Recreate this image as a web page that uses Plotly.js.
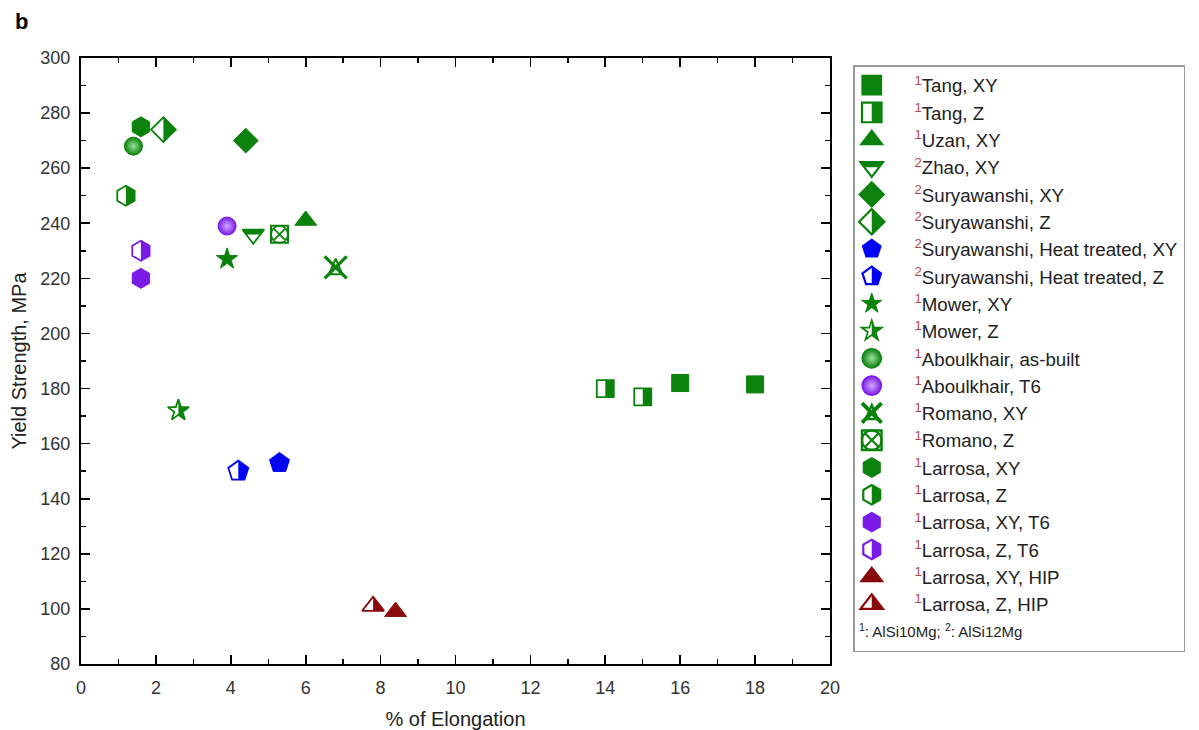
<!DOCTYPE html>
<html>
<head>
<meta charset="utf-8">
<script src="https://cdn.plot.ly/plotly-3.0.1.min.js"></script>
<style>
  html, body { margin: 0; padding: 0; background: #fff; }
  #chart { width: 1199px; height: 730px; }
</style>
</head>
<body>
<div id="chart"></div>
<script>
// ---------- data ----------
const seriesNames = [
  'Tang, XY', 'Tang, Z', 'Uzan, XY', 'Zhao, XY',
  'Suryawanshi, XY', 'Suryawanshi, Z',
  'Suryawanshi, Heat treated, XY', 'Suryawanshi, Heat treated, Z',
  'Mower, XY', 'Mower, Z',
  'Aboulkhair, as-built', 'Aboulkhair, T6',
  'Romano, XY', 'Romano, Z',
  'Larrosa, XY', 'Larrosa, Z', 'Larrosa, XY, T6', 'Larrosa, Z, T6',
  'Larrosa, XY, HIP', 'Larrosa, Z, HIP'
];
const alloyIndex = [1, 1, 1, 2, 2, 2, 2, 2, 1, 1, 1, 1, 1, 1, 1, 1, 1, 1, 1, 1];
const alloyNames = ['AlSi10Mg', 'AlSi12Mg'];
const elongation = [
  [16, 18], [14, 15], [6], [4.6], [4.4], [2.2], [5.3], [4.2], [3.9], [2.6],
  [1.4], [3.9], [6.8], [5.3], [1.6], [1.2], [1.6], [1.6], [8.4], [7.8]
];
const yieldStrength = [
  [182, 181.5], [180, 177], [241], [236], [270], [274], [153], [150], [227], [172],
  [268], [239], [224], [236], [275], [250], [220], [230], [99], [101]
];
const xTicks = [0, 2, 4, 6, 8, 10, 12, 14, 16, 18, 20];
const yTicks = [80, 100, 120, 140, 160, 180, 200, 220, 240, 260, 280, 300];

// ---------- styles ----------
const GREEN = '#0b820b', BLUE = '#0000f5', PURPLE = '#7a1ae6', DRED = '#8a0a0a';
const colors = [GREEN, GREEN, GREEN, GREEN, GREEN, GREEN, BLUE, BLUE, GREEN, GREEN,
                GREEN, PURPLE, GREEN, GREEN, GREEN, GREEN, PURPLE, PURPLE, DRED, DRED];
const symbols = ['square', 'square-open', 'triangle-up', 'triangle-down-open',
  'diamond', 'diamond-open', 'pentagon', 'pentagon-open', 'star', 'star-open',
  'circle', 'circle', 'x-thin-open', 'circle-x-open', 'hexagon', 'hexagon-open',
  'hexagon', 'hexagon-open', 'triangle-up', 'triangle-up-open'];
const sizes = [17, 17, 19, 19, 19, 19, 21, 21, 16, 16, 18, 18, 22, 17, 20, 20, 20, 20, 19, 19];
// partial fills: 'R' right half, 'T' top band
const partial = {1: 'R', 3: 'T', 5: 'R', 7: 'R', 9: 'R', 15: 'R', 17: 'R', 19: 'R'};
const sphereHighlight = {10: '#9be39b', 11: '#d2a8ff'};
const legendScale = {8: 0.95, 9: 0.95};

const FONT = 'Liberation Sans, Arial, Helvetica, sans-serif';

const traces = seriesNames.map((nm, i) => {
  const open = symbols[i].endsWith('-open');
  const m = {
    symbol: symbols[i], size: sizes[i], color: colors[i],
    line: {color: colors[i], width: open ? (i === 12 ? 3.2 : 1.8) : 1}
  };
  if (sphereHighlight[i]) m.gradient = {type: 'radial', color: sphereHighlight[i]};
  return {
    type: 'scatter', mode: 'markers', x: elongation[i], y: yieldStrength[i],
    name: '<span style="color:#b04848"><sup>' + alloyIndex[i] + '</sup></span>' + nm,
    marker: m, hoverinfo: 'skip'
  };
});
// blank entry that makes room for the alloy footnote inside the legend box
traces.push({type: 'scatter', mode: 'markers', x: [null], y: [null], name: ' ',
  marker: {size: 1, color: 'rgba(0,0,0,0)'}, hoverinfo: 'skip'});

const axisCommon = {
  showline: true, linecolor: '#000', linewidth: 2, mirror: 'ticks',
  ticks: 'inside', ticklen: 9, tickwidth: 1.6, tickcolor: '#000',
  showgrid: false, zeroline: false,
  tickfont: {family: FONT, size: 18, color: '#333'}
};

const layout = {
  width: 1199, height: 730,
  margin: {l: 81, r: 369, t: 58, b: 66},
  paper_bgcolor: '#fff', plot_bgcolor: '#fff',
  font: {family: FONT, color: '#222'},
  xaxis: Object.assign({}, axisCommon, {
    range: [0, 20], tickvals: xTicks, ticklabelstandoff: 6,
    minor: {ticks: 'inside', ticklen: 5, tickwidth: 1.4, tickcolor: '#000', dtick: 1, tick0: 0},
    title: {text: '% of Elongation', font: {family: FONT, size: 20, color: '#222'}, standoff: 16}
  }),
  yaxis: Object.assign({}, axisCommon, {
    range: [80, 300], tickvals: yTicks,
    minor: {ticks: 'inside', ticklen: 5, tickwidth: 1.4, tickcolor: '#000', dtick: 10, tick0: 80},
    ticklabelstandoff: 5,
    title: {text: 'Yield Strength, MPa', font: {family: FONT, size: 20, color: '#222'}, standoff: 8}
  }),
  showlegend: true,
  legend: {
    xref: 'container', yref: 'container',
    x: 853 / 1199, y: 1 - 65 / 730, xanchor: 'left', yanchor: 'top',
    maxheight: 700,
    bordercolor: '#9a9a9a', borderwidth: 1.5, bgcolor: '#fff',
    font: {family: FONT, size: 18.7, color: '#222'},
    itemwidth: 50
  },
  annotations: [
    {xref: 'paper', yref: 'paper', x: -0.079, y: 1.06, xanchor: 'center', yanchor: 'middle',
     text: '<b>b</b>', showarrow: false, font: {family: FONT, size: 22, color: '#000'}},
    {xref: 'paper', yref: 'paper', x: 1.036, y: 0.0545, xanchor: 'left', yanchor: 'middle',
     text: '<sup>1</sup>: ' + alloyNames[0] + '; <sup>2</sup>: ' + alloyNames[1],
     showarrow: false, font: {family: FONT, size: 15, color: '#222'}}
  ]
};

function decorate(gd) {
  const NS = 'http://www.w3.org/2000/svg';
  const svg = gd.querySelector('.main-svg');
  let defs = svg.querySelector('defs');
  if (!defs) { defs = document.createElementNS(NS, 'defs'); svg.insertBefore(defs, svg.firstChild); }
  function clip(id, x, y, w, h) {
    const cp = document.createElementNS(NS, 'clipPath');
    cp.setAttribute('id', id);
    cp.setAttribute('clipPathUnits', 'objectBoundingBox');
    const r = document.createElementNS(NS, 'rect');
    r.setAttribute('x', x); r.setAttribute('y', y);
    r.setAttribute('width', w); r.setAttribute('height', h);
    cp.appendChild(r); defs.appendChild(cp);
  }
  clip('halfR', 0.5, -0.2, 0.8, 1.4);
  clip('bandT', -0.2, -0.2, 1.4, 0.55);

  function addExtra(p, idx) {
    const bb = p.getBBox();
    const r = bb.width / 2;
    const e = document.createElementNS(NS, 'path');
    let d = '';
    if (idx === 12) {
      d = 'M0,' + (-0.8 * r) + 'L' + (0.6 * r) + ',' + (0.62 * r) + 'L' + (-0.6 * r) + ',' + (0.62 * r) + 'Z';
    } else if (idx === 13) {
      const s = r * 1.0;
      d = 'M' + (-s) + ',' + (-s) + 'H' + s + 'V' + s + 'H' + (-s) + 'Z';
    }
    e.setAttribute('d', d);
    e.setAttribute('transform', p.getAttribute('transform') || '');
    e.setAttribute('style', 'fill:none;stroke:' + colors[idx] + ';stroke-width:2px;opacity:1');
    p.parentNode.insertBefore(e, p.nextSibling);
  }
  function treat(p, idx) {
    if (partial[idx]) {
      const c = p.cloneNode(false);
      c.removeAttribute('class');
      c.setAttribute('style', 'fill:' + colors[idx] + ';fill-opacity:1;stroke:none;opacity:1');
      c.setAttribute('clip-path', 'url(#' + (partial[idx] === 'R' ? 'halfR' : 'bandT') + ')');
      p.parentNode.insertBefore(c, p.nextSibling);
    }
    if (idx === 12 || idx === 13) addExtra(p, idx);
  }
  gd.querySelectorAll('.scatterlayer .trace').forEach(tr => {
    const dat = tr.__data__;
    if (!dat || !dat[0] || !dat[0].trace) return;
    const idx = dat[0].trace.index;
    tr.querySelectorAll('path.point').forEach(p => treat(p, idx));
  });
  // legend symbols: place them near the box edge and enlarge slightly
  const bg = gd.querySelector('.legend .bg');
  const bgLeft = bg ? bg.getBoundingClientRect().left : 0;
  let dx = null;
  gd.querySelectorAll('.legend .traces').forEach(lg => {
    const dat = lg.__data__;
    if (!dat || !dat[0] || !dat[0].trace) return;
    const idx = dat[0].trace.index;
    lg.querySelectorAll('path.scatterpts').forEach(p => {
      if (dx === null) {
        const b = p.getBoundingClientRect();
        dx = (bgLeft + 18) - (b.left + b.width / 2);
      }
      const t = p.getAttribute('transform') || '';
      const s = legendScale[idx] || 1.22;
      p.setAttribute('transform', 'translate(' + dx + ',0) ' + t + ' scale(' + s + ')');
      treat(p, idx);
    });
  });
}

const gd = document.getElementById('chart');
Plotly.newPlot(gd, traces, layout, {staticPlot: true, displayModeBar: false}).then(() => decorate(gd));
</script>
</body>
</html>
